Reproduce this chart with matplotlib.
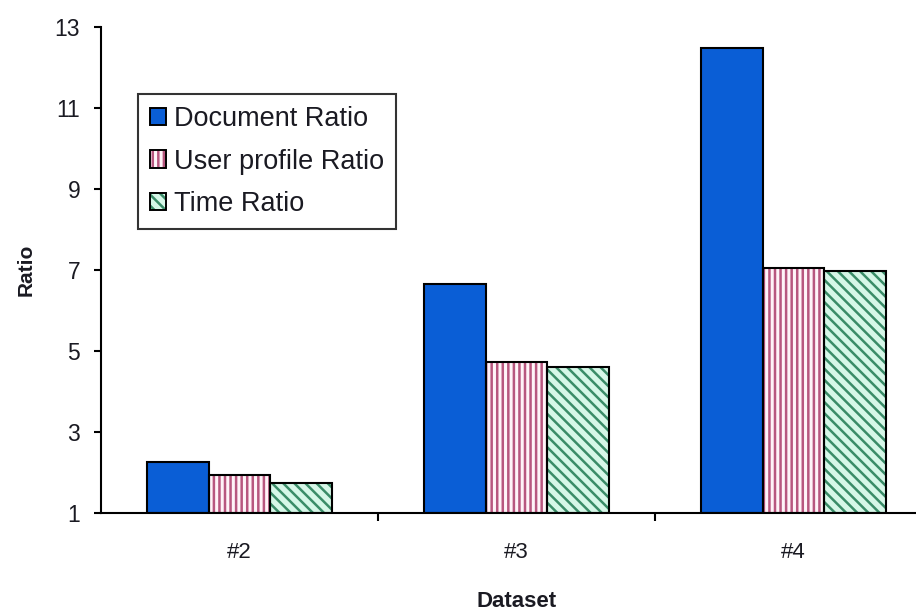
import matplotlib
matplotlib.use("Agg")
import matplotlib.pyplot as plt
import numpy as np
from matplotlib.patches import Patch
from matplotlib.legend_handler import HandlerTuple

categories = ["#2", "#3", "#4"]
series_names = ["Document Ratio", "User profile Ratio", "Time Ratio"]
document_ratio = [2.26, 6.65, 12.48]
user_profile_ratio = [1.94, 4.72, 7.05]
time_ratio = [1.74, 4.60, 6.98]
y_ticks = [1, 3, 5, 7, 9, 11, 13]

plt.rcParams['font.family'] = ['Liberation Sans', 'DejaVu Sans']
plt.rcParams['hatch.linewidth'] = 1.8

fig = plt.figure(figsize=(9.16, 6.14), dpi=100)
ax = fig.add_axes([101/916, 1 - 513/614, 831/916, 486/614])

x = np.arange(len(categories))
w = 0.222
styles = [
    dict(face="#0a5ed6", hatch=None, hcol=None),
    dict(face="#fff4f8", hatch="|||", hcol="#b8577f"),
    dict(face="#d6f7e8", hatch="\\\\\\", hcol="#3a8c68"),
]
data = [document_ratio, user_profile_ratio, time_ratio]
for i, (vals, st) in enumerate(zip(data, styles)):
    pos = x + (i - 1) * w
    heights = [v - 1 for v in vals]
    if st["hatch"]:
        ax.bar(pos, heights, width=w, bottom=1, color=st["face"],
               edgecolor=st["hcol"], hatch=st["hatch"], linewidth=0, zorder=2)
    else:
        ax.bar(pos, heights, width=w, bottom=1, color=st["face"], linewidth=0, zorder=2)
    ax.bar(pos, heights, width=w, bottom=1, facecolor="none",
           edgecolor="black", linewidth=1.5, zorder=3)

leg_handles = []
for name, st in zip(series_names, styles):
    if st["hatch"]:
        leg_handles.append((Patch(facecolor=st["face"], edgecolor=st["hcol"], hatch=st["hatch"], linewidth=0),
                            Patch(facecolor="none", edgecolor="black", linewidth=1.4)))
    else:
        leg_handles.append(Patch(facecolor=st["face"], edgecolor="black", linewidth=1.4))

leg = ax.legend(leg_handles, series_names, loc="upper left",
                bbox_to_anchor=(0.044, 0.862), fontsize=19.5,
                handler_map={tuple: HandlerTuple(ndivide=1, pad=0)},
                handlelength=0.6, handleheight=0.6, handletextpad=0.3,
                labelspacing=0.6, borderpad=0.45, borderaxespad=0,
                frameon=True, fancybox=False, edgecolor="black")
leg.get_frame().set_linewidth(1.5)
for t in leg.get_texts():
    t.set_color("#1a1a22")

ax.set_xlim(-0.5, 2.5)
ax.set_ylim(1, 13)
ax.set_yticks(y_ticks)
ax.set_yticklabels([str(t) for t in y_ticks])
ax.set_xticks(x)
ax.set_xticklabels(categories)
ax.set_xticks([0.5, 1.5], minor=True)
ax.tick_params(axis="x", which="major", length=0, pad=21, labelsize=16, labelcolor="#1a1a22")
ax.tick_params(axis="x", which="minor", length=6, width=1.5, direction="out")
ax.tick_params(axis="y", length=5, width=1.5, direction="out", pad=10, labelsize=16.5, labelcolor="#1a1a22")

for s in ["top", "right"]:
    ax.spines[s].set_visible(False)
for s in ["left", "bottom"]:
    ax.spines[s].set_linewidth(1.5)

ax.set_xlabel("Dataset", fontsize=16, fontweight="bold", labelpad=20, color="#1a1a22")
ax.set_ylabel("Ratio", fontsize=15, fontweight="bold", labelpad=14, color="#1a1a22")

fig.savefig("out.png", dpi=100)
